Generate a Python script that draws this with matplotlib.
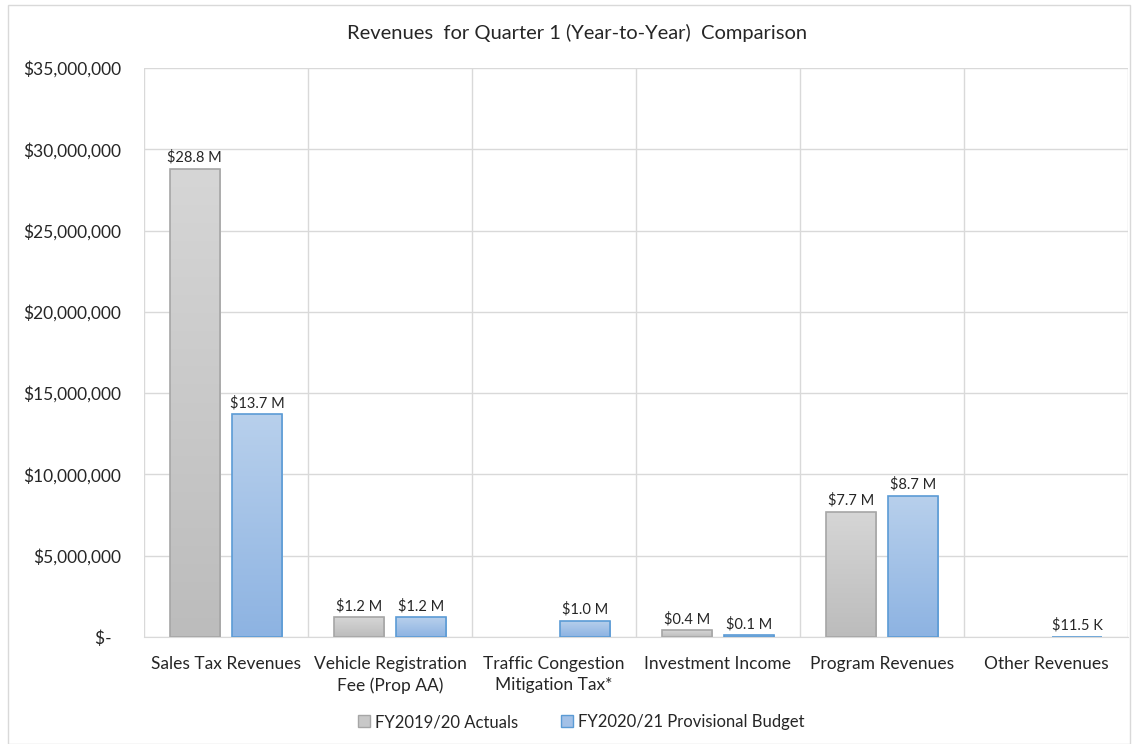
import matplotlib
matplotlib.use("Agg")
import matplotlib.pyplot as plt
import numpy as np
from matplotlib.patches import Rectangle
from matplotlib.colors import LinearSegmentedColormap

plt.rcParams['font.family'] = ['Lato', 'DejaVu Sans']

categories = ["Sales Tax Revenues", "Vehicle Registration\nFee (Prop AA)",
              "Traffic Congestion\nMitigation Tax*", "Investment Income",
              "Program Revenues", "Other Revenues"]
actuals = [28.8e6, 1.2e6, None, 0.4e6, 7.7e6, None]
budget = [13.7e6, 1.2e6, 1.0e6, 0.1e6, 8.7e6, 11.5e3]
actual_labels = ["$28.8 M", "$1.2 M", None, "$0.4 M", "$7.7 M", None]
budget_labels = ["$13.7 M", "$1.2 M", "$1.0 M", "$0.1 M", "$8.7 M", "$11.5 K"]
series_names = ["FY2019/20 Actuals", "FY2020/21 Provisional Budget"]
yticks = [0, 5e6, 10e6, 15e6, 20e6, 25e6, 30e6, 35e6]
ytick_labels = ["$-  ", "$5,000,000", "$10,000,000", "$15,000,000", "$20,000,000",
                "$25,000,000", "$30,000,000", "$35,000,000"]

W, H = 1135, 744
fig = plt.figure(figsize=(W / 100, H / 100), dpi=100)
fig.patches.append(Rectangle((8 / W, 0), (1130 - 8) / W, (H - 5) / H, transform=fig.transFigure,
                             fill=False, edgecolor="#d9d9d9", linewidth=1))

ax = fig.add_axes([144 / W, (H - 637) / H, (1128 - 144) / W, (637 - 68) / H])
n = len(categories)
x = np.arange(n)
bw = 0.305
off = 0.19

gray_cmap = LinearSegmentedColormap.from_list("g", ["#bcbcbc", "#d6d6d6"])
blue_cmap = LinearSegmentedColormap.from_list("b", ["#8db3e2", "#b8d0ec"])

def draw(vals, xs, cmap, edge):
    for v, xc in zip(vals, xs):
        if v is None:
            continue
        bars = ax.bar(xc, v, bw, color="none", edgecolor=edge, linewidth=1.2, zorder=3)
        r = bars[0]
        grad = np.linspace(0, 1, 256).reshape(-1, 1)
        im = ax.imshow(grad, cmap=cmap, origin="lower", aspect="auto",
                       extent=[xc - bw / 2, xc + bw / 2, 0, v], zorder=2.5)
        im.set_clip_path(r)

draw(actuals, x - off, gray_cmap, "#a6a6a6")
draw(budget, x + off, blue_cmap, "#5b9bd5")

for xc, v, lab in zip(x - off, actuals, actual_labels):
    if v is not None:
        ax.text(xc, v + 250000, lab, ha="center", va="bottom", fontsize=10.5, color="#262626")
for xc, v, lab in zip(x + off, budget, budget_labels):
    ax.text(xc, v + 250000, lab, ha="center", va="bottom", fontsize=10.5, color="#262626")

ax.set_xlim(-0.5, n - 0.5)
ax.set_ylim(0, 35e6)
ax.set_yticks(yticks)
ax.set_yticklabels(ytick_labels, fontsize=12.5, color="#262626")
ax.set_xticks(x)
ax.set_xticklabels(categories, fontsize=12.5, color="#262626", linespacing=1.35)
ax.set_xticks(np.arange(n + 1) - 0.5, minor=True)
ax.tick_params(axis="both", which="both", length=0)
ax.tick_params(axis="y", pad=16.5)
ax.tick_params(axis="x", pad=14)
ax.grid(axis="y", which="major", color="#d9d9d9", linewidth=1, zorder=0)
ax.grid(axis="x", which="minor", color="#d9d9d9", linewidth=1, zorder=0)
ax.grid(axis="x", which="major", visible=False)
for s in ["top", "left", "right"]:
    ax.spines[s].set_visible(False)
ax.spines["bottom"].set_color("#d9d9d9")
ax.set_axisbelow(True)

fig.text(577 / W, 1 - 33 / H, "Revenues  for Quarter 1 (Year-to-Year)  Comparison",
         ha="center", va="center", fontsize=14.5, color="#262626")

handles = [Rectangle((0, 0), 1, 1, facecolor="#c8c8c8", edgecolor="#a6a6a6"),
           Rectangle((0, 0), 1, 1, facecolor="#a3c1e7", edgecolor="#5b9bd5")]
fig.legend(handles, series_names, loc="center", bbox_to_anchor=(581 / W, 1 - 722 / H),
           ncol=2, frameon=False, fontsize=12, handlelength=0.7, handleheight=0.7,
           handletextpad=0.3, columnspacing=2.6, labelcolor="#262626")

fig.savefig("out.png", dpi=100)
